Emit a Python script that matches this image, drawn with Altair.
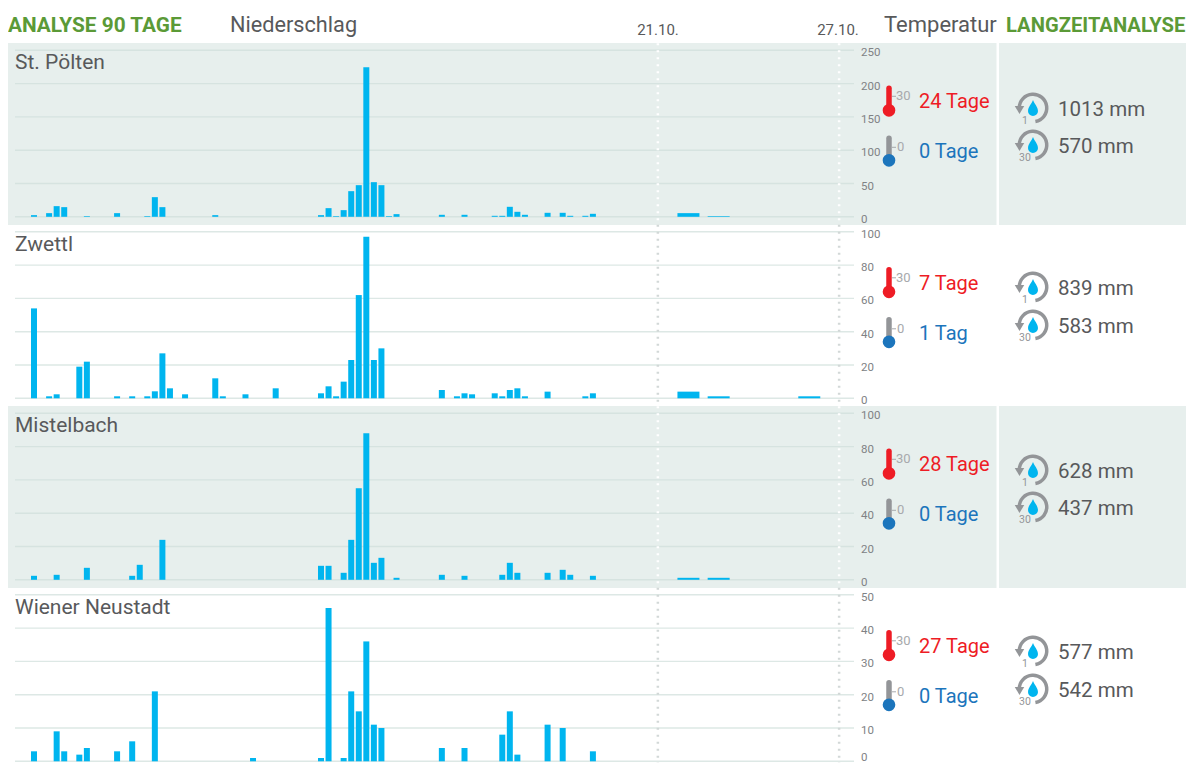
import altair as alt
import pandas as pd

FONT = "Roboto"
GREEN = "#5b9a37"
GREY = "#58595b"
RED = "#ee1c25"
BLUE = "#1c75bc"
BAR = "#00b5ef"
BG = "#e7efed"

names = ["St. Pölten", "Zwettl", "Mistelbach", "Wiener Neustadt"]
y_max = [250, 100, 100, 50]
y_step = [50, 20, 20, 10]
hot_days = ["24 Tage", "7 Tage", "28 Tage", "27 Tage"]
cold_days = ["0 Tage", "1 Tag", "0 Tage", "0 Tage"]
rain_1 = ["1013 mm", "839 mm", "628 mm", "577 mm"]
rain_30 = ["570 mm", "583 mm", "437 mm", "542 mm"]
rain_y = [(109, 146), (288, 326), (471, 508), (652, 690)]

day_1 = [0, 2, 3, 4, 7, 11, 15, 16, 17, 24, 38, 39, 40, 41, 42, 43, 44, 45, 46, 47, 48, 54, 57, 61, 62, 63, 64, 65, 68, 70, 71, 73, 74]
val_1 = [2.5, 5.5, 16, 14.5, 1, 5.5, 1, 29.5, 14.5, 2.5, 2.5, 13, 1, 10, 38.5, 47.5, 224.5, 52, 47.5, 1, 4, 3, 3, 1.5, 1.5, 15, 7.5, 3, 6, 6, 1.5, 1.5, 4.5]
day_2 = [0, 2, 3, 6, 7, 11, 13, 15, 16, 17, 18, 20, 24, 25, 28, 32, 38, 39, 40, 41, 42, 43, 44, 45, 46, 54, 56, 57, 58, 61, 62, 63, 64, 65, 68, 73, 74]
val_2 = [54, 1.2, 2.4, 19, 22, 1.2, 1.2, 1.2, 4.2, 27, 6, 2.4, 12, 1.2, 2.4, 6, 3, 7.2, 1.2, 10, 23, 62, 97, 23, 30, 5, 1.2, 3, 2.4, 3, 1.2, 5, 6, 1.2, 4, 1.2, 3]
day_3 = [0, 3, 7, 13, 14, 17, 38, 39, 41, 42, 43, 44, 45, 46, 48, 54, 57, 62, 63, 64, 68, 70, 71, 74]
val_3 = [2.4, 3, 7.2, 2.4, 9, 24, 8.4, 8.4, 4.2, 24, 55, 88, 10.2, 13.2, 1.2, 3, 2.4, 3, 10.2, 4.2, 4.2, 6, 3, 2.4]
day_4 = [0, 3, 4, 6, 7, 11, 13, 16, 29, 38, 39, 41, 42, 43, 44, 45, 46, 54, 57, 62, 63, 64, 68, 70, 74]
val_4 = [3, 9, 3, 2, 4, 3, 6, 21, 1, 1, 46, 1, 21, 15, 36, 11, 10, 4, 4, 8, 15, 2, 11, 10, 3]
days = [day_1, day_2, day_3, day_4]
vals = [val_1, val_2, val_3, val_4]

fc_day = [[86.65, 90.65], [86.65, 90.65, 102.65], [86.65, 90.65], [86.65, 90.65]]
fc_val = [[5.5, 1], [4, 1.2, 1.2], [1.2, 1.2], [0, 0]]

date_pos = [82.6, 106.6]
date_txt = ["21.10.", "27.10."]

SVG_W, SVG_H = 1178, 755
OFF = 8
X_L, X_R = 15, 854
H, PITCH, TOP0 = 166.5, 181.5, 50.3
DROP = "M0,-1 C0.15,-0.55 0.62,-0.15 0.62,0.38 A0.62,0.62 0 1 1 -0.62,0.38 C-0.62,-0.15 -0.15,-0.55 0,-1 Z"
ONE = alt.Data(values=[{}])
X_SCALE = alt.Scale(domain=[-2.516, 108.57], nice=False, zero=False, padding=0, range=[X_L - OFF, X_R - OFF])


def v(p):
    return alt.value(p - OFF)


def text(s, px, py, size, color, bold=False, align="left"):
    return alt.Chart(ONE).mark_text(
        font=FONT, fontSize=size, color=color, align=align, baseline="middle",
        fontWeight="bold" if bold else "normal",
    ).encode(x=v(px), y=v(py), text=alt.value(s))


def rule(x1, y1, x2, y2, color, w, cap="round"):
    return alt.Chart(ONE).mark_rule(color=color, strokeWidth=w, strokeCap=cap).encode(
        x=v(x1), x2=v(x2), y=v(y1), y2=v(y2))


def rect(x1, y1, x2, y2, color):
    return alt.Chart(ONE).mark_rect(color=color).encode(x=v(x1), x2=v(x2), y=v(y1), y2=v(y2))


def dot(px, py, size, color, shape="circle"):
    return alt.Chart(ONE).mark_point(shape=shape, filled=True, opacity=1, size=size, color=color, strokeWidth=0).encode(
        x=v(px), y=v(py))


def rain_icon(cy, label):
    cx = 1033
    return [
        alt.Chart(ONE).mark_arc(radius=15.5, radius2=12, theta=4.71, theta2=9.25, color="#939598").encode(
            x=v(cx), y=v(cy)),
        dot(cx - 13.5, cy + 2, 90, "#939598", "triangle-down"),
        dot(cx, cy, 256, BAR, DROP),
        text(label, cx - 8, cy + 12.5, 10.5, "#939598", align="center"),
    ]


def panel(i):
    top = TOP0 + i * PITCH
    shaded = i % 2 == 0
    layers = []
    if shaded:
        layers += [rect(7, top - 7.3, 996.5, top + 174.7, BG), rect(999, top - 7.3, 1194, top + 174.7, BG)]
    y_scale = alt.Scale(domain=[0, y_max[i]], nice=False, range=[top + H - OFF, top - OFF])
    ticks = list(range(0, y_max[i] + 1, y_step[i]))
    grid = pd.DataFrame({"v": ticks})
    layers.append(
        alt.Chart(grid).mark_rule(color="#d6e3e0" if shaded else "#dde8e5", strokeWidth=1.4).encode(
            x=v(X_L), x2=v(X_R), y=alt.Y("v:Q", scale=y_scale, axis=None))
    )
    layers.append(
        alt.Chart(pd.DataFrame({"d": date_pos})).mark_rule(color="#ffffff" if shaded else "#d2d8d7", strokeWidth=2.5, strokeDash=[2, 5]).encode(
            x=alt.X("d:Q", scale=X_SCALE, axis=None), y=v(top - 7), y2=v(top + 175))
    )
    # the bottom panel's 0 label is lifted so it is not cut by the page edge
    upper = grid[grid.v > 0] if i == 3 else grid
    layers.append(
        alt.Chart(upper).mark_text(font=FONT, fontSize=11.5, color="#808285", align="left", baseline="middle", dy=3).encode(
            x=v(861), y=alt.Y("v:Q", scale=y_scale, axis=None), text=alt.Text("v:Q"))
    )
    if i == 3:
        layers.append(
            alt.Chart(grid[grid.v == 0]).mark_text(font=FONT, fontSize=11.5, color="#808285", align="left", baseline="middle", dy=-3).encode(
                x=v(861), y=alt.Y("v:Q", scale=y_scale, axis=None), text=alt.Text("v:Q"))
        )
    layers.append(
        alt.Chart(pd.DataFrame({"d": days[i], "v": vals[i]})).mark_bar(color=BAR, width=6).encode(
            x=alt.X("d:Q", scale=X_SCALE, axis=None), y=alt.Y("v:Q", scale=y_scale, axis=None))
    )
    fc = pd.DataFrame({"d": fc_day[i], "v": fc_val[i]})
    fc = fc[fc.v > 0]
    if len(fc):
        layers.append(alt.Chart(fc).mark_bar(color=BAR, width=22).encode(
            x=alt.X("d:Q", scale=X_SCALE, axis=None), y=alt.Y("v:Q", scale=y_scale, axis=None)))
    layers.append(text(names[i], 15, top + 12.7, 21, GREY))

    # thermometers
    layers += [
        rule(889, top + 38, 889, top + 60, RED, 5.5),
        dot(889, top + 60, 160, RED),
        rule(892, top + 46, 896, top + 46, "#a7a9ac", 1, "butt"),
        text("30", 896, top + 46, 13, "#a7a9ac"),
        text(hot_days[i], 919, top + 51.7, 20, RED),
        rule(889, top + 88, 889, top + 106, "#939598", 5.5),
        dot(889, top + 110, 160, BLUE),
        rule(892, top + 97, 896, top + 97, "#a7a9ac", 1, "butt"),
        text("0", 897, top + 97, 13, "#a7a9ac"),
        text(cold_days[i], 919, top + 101.7, 20, BLUE),
    ]
    # rain
    y1, y2 = rain_y[i]
    layers += rain_icon(y1 - 1, "1") + rain_icon(y2 - 1, "30")
    layers += [text(rain_1[i], 1058, y1 + 1, 20.5, GREY), text(rain_30[i], 1058, y2 + 1, 20.5, GREY)]
    return layers


header = [
    text("ANALYSE 90 TAGE", 8, 25.5, 20.8, GREEN, True),
    text("Niederschlag", 230, 25, 21.7, GREY),
    text(date_txt[0], 658, 29.5, 15, GREY, align="center"),
    text(date_txt[1], 838, 29.5, 15, GREY, align="center"),
    text("Temperatur", 884, 25, 22, GREY),
    text("LANGZEITANALYSE", 1006, 25.5, 20.2, GREEN, True),
]

all_layers = header
for i in range(4):
    all_layers = all_layers + panel(i)

chart = alt.layer(*all_layers).resolve_scale(y="independent").properties(
    width=SVG_W, height=SVG_H, padding=0, autosize=alt.AutoSizeParams(type="none")
).configure_view(stroke=None)

chart.save("out.html", embed_options={"renderer": "svg", "actions": False})
